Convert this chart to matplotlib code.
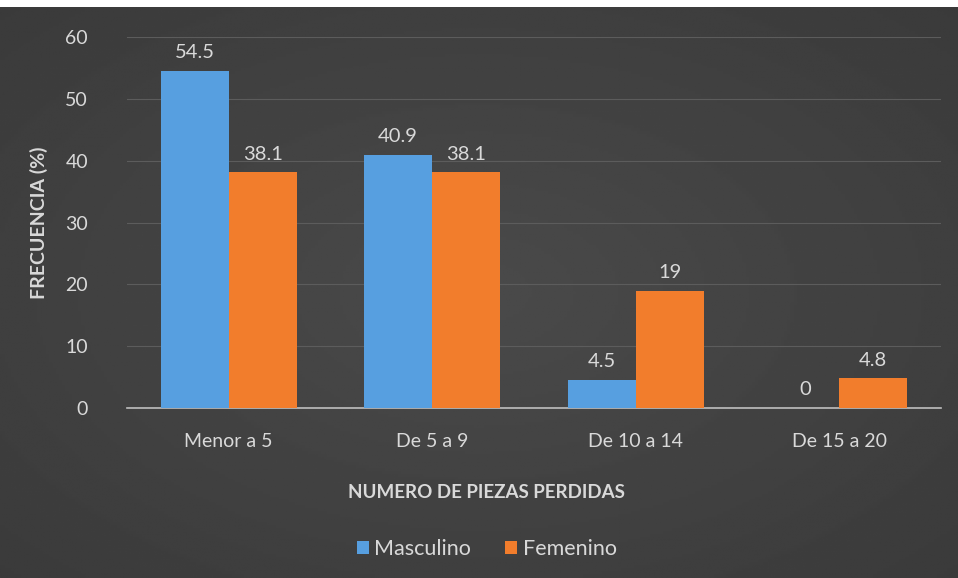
import numpy as np
import matplotlib.pyplot as plt

# Data
categorias = ['Menor a 5', 'De 5 a 9', 'De 10 a 14', 'De 15 a 20']
masculino = [54.5, 40.9, 4.5, 0]
femenino = [38.1, 38.1, 19, 4.8]
etiquetas_m = ['54.5', '40.9', '4.5', '0']
etiquetas_f = ['38.1', '38.1', '19', '4.8']

plt.rcParams['font.family'] = ['Lato', 'DejaVu Sans']
txt = '#d9d9d9'

fig = plt.figure(figsize=(9.58, 5.78), dpi=100)

# dark background with a soft radial light in the middle
bg = fig.add_axes([0, 0, 1, 1 - 7 / 578])
yy, xx = np.mgrid[-1:1:200j, -1:1:300j]
r = np.sqrt(xx ** 2 + yy ** 2)
bg.imshow(0.29 - 0.06 * np.clip(r, 0, 1.4) / 1.4, cmap='gray', vmin=0, vmax=1,
          aspect='auto', extent=[0, 1, 0, 1])
bg.axis('off')

ax = fig.add_axes([127 / 958, 170 / 578, 814 / 958, 371 / 578])
ax.patch.set_alpha(0)

x = np.arange(len(categorias))
w = 0.335
b1 = ax.bar(x - w / 2, masculino, w, color='#579fe0', zorder=3)
b2 = ax.bar(x + w / 2, femenino, w, color='#f27d2c', zorder=3)

for bars, labs in ((b1, etiquetas_m), (b2, etiquetas_f)):
    for bar, lab in zip(bars, labs):
        ax.annotate(lab, (bar.get_x() + bar.get_width() / 2, bar.get_height()),
                    xytext=(0, 7), textcoords='offset points', ha='center',
                    va='bottom', color=txt, fontsize=14.5)

ax.set_xlim(-0.5, 3.5)
ax.set_ylim(0, 60)
ax.set_yticks(range(0, 61, 10))
ax.set_xticks(x)
ax.set_xticklabels(categorias)
ax.grid(axis='y', color='#5c5c5c', linewidth=0.8, zorder=0)
for s in ('top', 'right', 'left'):
    ax.spines[s].set_visible(False)
ax.spines['bottom'].set_color('#bfbfbf')
ax.spines['bottom'].set_linewidth(1.2)
ax.tick_params(length=0, colors=txt, labelsize=14, pad=18)
ax.tick_params(axis='y', pad=28)

ax.set_ylabel('FRECUENCIA (%)', color=txt, fontsize=14, fontweight='bold', va='center')
ax.yaxis.set_label_coords(-88 / 814, 0.5)
ax.set_xlabel('NUMERO DE PIEZAS PERDIDAS', color=txt, fontsize=13.5,
              fontweight='bold')
ax.xaxis.set_label_coords(0.442, -0.205)

leg = ax.legend([b1, b2], ['Masculino', 'Femenino'], loc='upper center',
                bbox_to_anchor=(0.442, -0.30), ncol=2, frameon=False,
                fontsize=15.5, handlelength=0.55, handleheight=0.55,
                handletextpad=0.25, columnspacing=1.6, labelcolor=txt)

fig.savefig('out.png', dpi=100, facecolor='white')
